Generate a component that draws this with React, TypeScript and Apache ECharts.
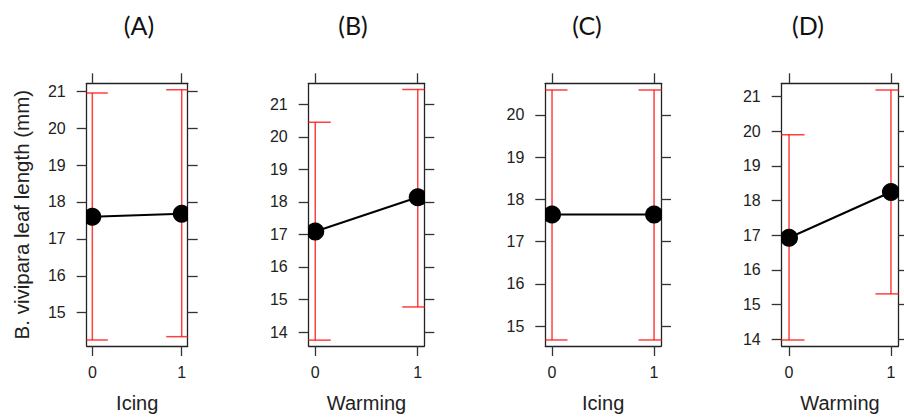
import React, { useEffect, useRef } from "react";
import * as echarts from "echarts";

const panelTitles = ["(A)", "(B)", "(C)", "(D)"];
const factorNames = ["Icing", "Warming", "Icing", "Warming"];
const levels = [0, 1];
const means = [
  [17.6, 17.68],
  [17.09, 18.14],
  [17.64, 17.64],
  [16.93, 18.25],
];
const lowers = [
  [14.26, 14.35],
  [13.75, 14.77],
  [14.67, 14.67],
  [13.98, 15.31],
];
const uppers = [
  [20.95, 21.04],
  [20.45, 21.45],
  [20.59, 20.59],
  [19.9, 21.19],
];
const yTicks = [
  [15, 16, 17, 18, 19, 20, 21],
  [14, 15, 16, 17, 18, 19, 20, 21],
  [15, 16, 17, 18, 19, 20],
  [14, 15, 16, 17, 18, 19, 20, 21],
];
const yMin = [14.097, 13.57, 14.527, 13.807];
const yMax = [21.216, 21.644, 20.749, 21.385];
const xMin = [-0.063, -0.064, -0.066, -0.072];
const xMax = [1.067, 1.064, 1.068, 1.072];
const yLabel = "B. vivipara leaf length (mm)";

const gridBoxes = [
  { left: 86.7, width: 101 },
  { left: 308.7, width: 115.6 },
  { left: 545.3, width: 115.7 },
  { left: 781.7, width: 116.6 },
];
const titleX = [139, 353, 587, 808];

export default function App() {
  const ref = useRef<HTMLDivElement>(null);
  useEffect(() => {
    if (!ref.current) return;
    const chart = echarts.init(ref.current, undefined, { renderer: "svg" });
    const grids: any[] = [];
    const xAxes: any[] = [];
    const yAxes: any[] = [];
    const series: any[] = [];
    const axisLine = { show: true, onZero: false, lineStyle: { color: "#222", width: 1.3 } };
    const tickStyle = { color: "#333", width: 1.3 };
    const labelFont = { fontFamily: "Liberation Sans", fontSize: 16, color: "#222" };

    for (let i = 0; i < 4; i++) {
      grids.push({
        left: gridBoxes[i].left,
        width: gridBoxes[i].width,
        top: 83.3,
        height: 263.4,
        containLabel: false,
      });
      xAxes.push({
        type: "value",
        gridIndex: i,
        position: "bottom",
        min: xMin[i],
        max: xMax[i],
        axisLine,
        splitLine: { show: false },
        axisTick: { show: true, length: 10, lineStyle: tickStyle, customValues: levels },
        axisLabel: { ...labelFont, margin: 18, customValues: levels, formatter: (v: number) => String(v) },
        name: factorNames[i],
        nameLocation: "middle",
        nameGap: 47,
        nameTextStyle: { fontFamily: "Liberation Sans", fontSize: 20, color: "#222" },
      });
      xAxes.push({
        type: "value",
        gridIndex: i,
        position: "top",
        min: xMin[i],
        max: xMax[i],
        axisLine,
        splitLine: { show: false },
        axisTick: { show: true, length: 10, lineStyle: tickStyle, customValues: levels },
        axisLabel: { show: false },
      });
      yAxes.push({
        type: "value",
        gridIndex: i,
        position: "left",
        min: yMin[i],
        max: yMax[i],
        axisLine,
        splitLine: { show: false },
        axisTick: { show: true, length: 10, lineStyle: tickStyle, customValues: yTicks[i] },
        axisLabel: { ...labelFont, margin: 21, customValues: yTicks[i], formatter: (v: number) => String(v) },
        ...(i === 0
          ? {
              name: yLabel,
              nameLocation: "middle",
              nameGap: 55,
              nameRotate: 90,
              nameTextStyle: { fontFamily: "Liberation Sans", fontSize: 20.5, color: "#222" },
            }
          : {}),
      });
      yAxes.push({
        type: "value",
        gridIndex: i,
        position: "right",
        min: yMin[i],
        max: yMax[i],
        axisLine,
        splitLine: { show: false },
        axisTick: { show: true, length: 10, lineStyle: tickStyle, customValues: yTicks[i] },
        axisLabel: { show: false },
      });

      const errData = levels.map((lv, j) => [lv, lowers[i][j], uppers[i][j]]);
      series.push({
        type: "custom",
        xAxisIndex: 2 * i,
        yAxisIndex: 2 * i,
        clip: true,
        z: 2,
        data: errData,
        renderItem: (_params: any, api: any) => {
          const x = api.value(0);
          const lo = api.coord([x, api.value(1)]);
          const hi = api.coord([x, api.value(2)]);
          const cw = 15.5;
          const style = { stroke: "rgba(255,0,0,0.75)", lineWidth: 1.5 };
          return {
            type: "group",
            children: [
              { type: "line", shape: { x1: lo[0], y1: lo[1], x2: hi[0], y2: hi[1] }, style },
              { type: "line", shape: { x1: hi[0] - cw, y1: hi[1], x2: hi[0] + cw, y2: hi[1] }, style },
              { type: "line", shape: { x1: lo[0] - cw, y1: lo[1], x2: lo[0] + cw, y2: lo[1] }, style },
            ],
          };
        },
      });
      const meanData = levels.map((lv, j) => [lv, means[i][j]]);
      series.push({
        type: "line",
        xAxisIndex: 2 * i,
        yAxisIndex: 2 * i,
        data: meanData,
        showSymbol: false,
        symbol: "none",
        clip: true,
        z: 3,
        lineStyle: { color: "#000", width: 2 },
      });
      series.push({
        type: "custom",
        xAxisIndex: 2 * i,
        yAxisIndex: 2 * i,
        clip: true,
        z: 4,
        data: meanData,
        renderItem: (_params: any, api: any) => {
          const p = api.coord([api.value(0), api.value(1)]);
          return { type: "circle", shape: { cx: p[0], cy: p[1], r: 9 }, style: { fill: "#000" } };
        },
      });
    }

    const graphics = panelTitles.map((t, i) => ({
      type: "text",
      x: titleX[i],
      y: 24.5,
      style: {
        text: t,
        fontFamily: "Lato",
        fontSize: 25,
        fill: "#111",
        align: "center",
        verticalAlign: "middle",
      },
    }));

    chart.setOption({
      animation: false,
      backgroundColor: "#fff",
      grid: grids,
      xAxis: xAxes,
      yAxis: yAxes,
      series,
      graphic: graphics,
    });
    return () => chart.dispose();
  }, []);
  return (
    <div
      ref={ref}
      style={{ position: "fixed", left: 0, top: 0, width: 904, height: 418 }}
    />
  );
}
